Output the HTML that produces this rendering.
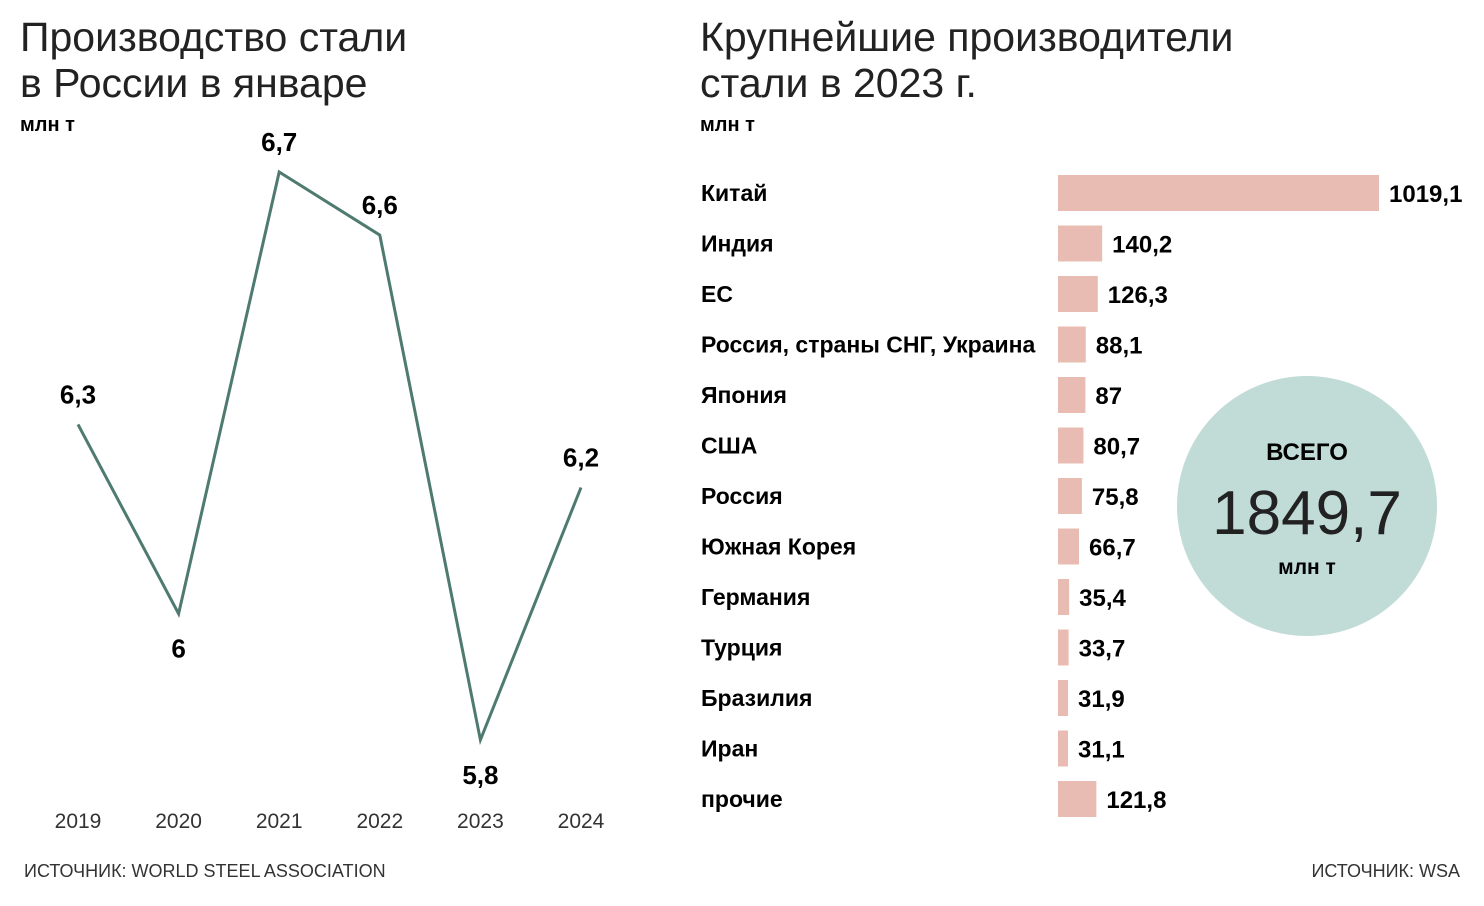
<!DOCTYPE html>
<html><head><meta charset="utf-8"><style>
body{margin:0;width:1484px;height:906px;background:#fff;font-family:"Liberation Sans","DejaVu Sans",sans-serif;color:#1a1a1a;overflow:hidden}
svg{position:absolute;left:0;top:0}
</style></head><body>
<svg width="1484" height="906" id="svg">
<text x="20" y="51" font-size="41" fill="#222">Производство стали</text>
<text x="20" y="97" font-size="41" fill="#222">в России в январе</text>
<text x="20" y="131" font-size="20" font-weight="bold">млн т</text>
<text x="700" y="51" font-size="41" fill="#222">Крупнейшие производители</text>
<text x="700" y="97" font-size="41" fill="#222">стали в 2023 г.</text>
<text x="700" y="131" font-size="20" font-weight="bold">млн т</text>
<text x="24" y="877" font-size="18" fill="#333">ИСТОЧНИК: WORLD STEEL ASSOCIATION</text>
<text x="1460" y="877" font-size="18" fill="#333" text-anchor="end">ИСТОЧНИК: WSA</text>
<g id="line"></g><g id="bars"></g>
<circle cx="1307" cy="506" r="130" fill="#c1dbd6"/>
<text x="1307" y="460" font-size="24" font-weight="bold" text-anchor="middle">ВСЕГО</text>
<text x="1307" y="534" font-size="62" text-anchor="middle" fill="#222">1849,7</text>
<text x="1307" y="574" font-size="21" font-weight="bold" text-anchor="middle">млн т</text>
</svg>
<script>
const years=["2019","2020","2021","2022","2023","2024"];
const jan=[6.3,6.0,6.7,6.6,5.8,6.2];
const janLabels=["6,3","6","6,7","6,6","5,8","6,2"];
const countries=["Китай","Индия","ЕС","Россия, страны СНГ, Украина","Япония","США","Россия","Южная Корея","Германия","Турция","Бразилия","Иран","прочие"];
const output=[1019.1,140.2,126.3,88.1,87,80.7,75.8,66.7,35.4,33.7,31.9,31.1,121.8];
const outputLabels=["1019,1","140,2","126,3","88,1","87","80,7","75,8","66,7","35,4","33,7","31,9","31,1","121,8"];
const NS="http://www.w3.org/2000/svg";
const xL=i=>78+i*100.6, yL=v=>172+(6.7-v)*631;
const lg=document.getElementById('line');
let pts=jan.map((v,i)=>xL(i)+','+yL(v)).join(' ');
let pl=document.createElementNS(NS,'polyline');
pl.setAttribute('points',pts);pl.setAttribute('fill','none');pl.setAttribute('stroke','#4e7a70');pl.setAttribute('stroke-width','3');


lg.appendChild(pl);
jan.forEach((v,i)=>{
 const prev=i>0?jan[i-1]:Infinity, next=i<jan.length-1?jan[i+1]:Infinity;
 const down=(i>0&&i<jan.length-1&&v<prev&&v<next);
 let t=document.createElementNS(NS,'text');
 t.setAttribute('x',xL(i));t.setAttribute('y',down?yL(v)+44:yL(v)-21);
 t.setAttribute('text-anchor','middle');t.setAttribute('font-size','26');t.setAttribute('font-weight','bold');
 t.textContent=janLabels[i];
 
 
 lg.appendChild(t);
 let y=document.createElementNS(NS,'text');
 y.setAttribute('x',xL(i));y.setAttribute('y',828);y.setAttribute('text-anchor','middle');y.setAttribute('font-size','21');y.setAttribute('fill','#333');
 y.textContent=years[i];
 
 
 lg.appendChild(y);
});
const bg=document.getElementById('bars');
const x0=1058, sx=v=>v*0.315, yc=i=>193+i*50.5;
countries.forEach((c,i)=>{
 let l=document.createElementNS(NS,'text');
 l.setAttribute('x',701);l.setAttribute('y',yc(i)+8);l.setAttribute('font-size','23');l.setAttribute('font-weight','bold');
 l.textContent=c;
 
 
 bg.appendChild(l);
 let r=document.createElementNS(NS,'rect');
 r.setAttribute('x',x0);r.setAttribute('y',yc(i)-18);r.setAttribute('width',Math.max(sx(output[i]),10));r.setAttribute('height',36);r.setAttribute('fill','#e8bcb2');
 
 
 bg.appendChild(r);
 let v=document.createElementNS(NS,'text');
 v.setAttribute('x',x0+Math.max(sx(output[i]),10)+10);v.setAttribute('y',yc(i)+9);v.setAttribute('font-size','24');v.setAttribute('font-weight','bold');
 v.textContent=outputLabels[i];
 
 
 bg.appendChild(v);
});
</script>
</body></html>
